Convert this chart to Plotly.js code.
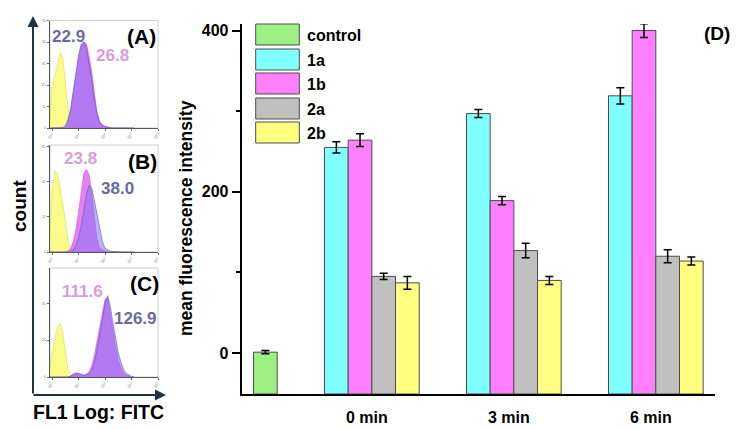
<!DOCTYPE html>
<html><head><meta charset="utf-8">
<script src="https://cdn.plot.ly/plotly-3.0.1.min.js"></script>
<style>html,body{margin:0;padding:0;background:#fff}#chart{width:751px;height:430px}</style>
</head><body><div id="chart"></div>
<script>
// ---------- Panel D: mean fluorescence intensity ----------
const groups = ['0 min', '3 min', '6 min'];
const seriesNames = ['control', '1a', '1b', '2a', '2b'];
const controlValue = [1];
const controlError = [2];
const mfi1a = [255, 297, 319];
const err1a = [7, 5, 10];
const mfi1b = [264, 189, 400];
const err1b = [8, 5, 8.5];
const mfi2a = [95, 127, 120];
const err2a = [4, 9, 8];
const mfi2b = [87, 90, 114];
const err2b = [8, 5, 5];

// ---------- Panels A-C: FL1 histograms (count per channel) ----------
const fl1Channels = [0.794, 1, 1.259, 1.585, 1.995, 2.512, 3.162, 3.981, 5.012, 6.31,
  7.943, 10, 12.59, 15.85, 19.95, 25.12, 31.62, 39.81, 50.12, 63.1,
  79.43, 100, 125.9, 158.5, 199.5, 251.2, 316.2, 398.1, 501.2, 631,
  794.3, 1000, 1259];
const countAYellow = [0,20,24,30,35,33,22,10,3,1, 0.5,0,0,0,0,0,0,0,0,0, 0,0,0,0,0,0,0,0,0,0, 0,0,0];
const countAPink   = [0,0,0,0,0,0,0.5,3,8,15, 24,32,38,40,39,33,26,16,7,3, 1.5,0.8,0.4,0.2,0,0,0,0,0,0, 0,0,0];
const countABlue   = [0,0,0,0,0,0.2,1,4,9,17, 26,34,39,40,37,30,22,13,6,2.5, 1,0.5,0.2,0,0,0,0,0,0,0, 0,0,0];
const countBYellow = [5,35,46,45,37,28,18,6,1.5,0.5, 0,0,0,0,0,0,0,0,0,0, 0,0,0,0,0,0,0,0,0,0, 0,0,0];
const countBPink   = [0,0,0,0,0,0,0,0.5,2,6, 13,23,35,45,47,44,33,18,7,2, 1,0.5,0,0,0,0,0,0,0,0, 0,0,0];
const countBBlue   = [0,0,0,0,0,0,0,0,0,1, 4,8,15,24,33,38,36,29,21,13, 6,2,1,0.5,0.3,0,0,0,0,0, 0,0,0];
const countCYellow = [3,13,20,27,29,24,14,4,1,0.5, 0,0,0,0,0,0,0,0,0,0, 0,0,0,0,0,0,0,0,0,0, 0,0,0];
const countCPink   = [0,0,0,0,0,0,0,0,0.5,1.5, 2,1.8,1.2,1,1.5,3,6,12,20,28, 36,42,43,35,25,16,9,5,2,1, 0.3,0,0];
const countCBlue   = [0,0,0,0,0,0,0,0,0.5,1.5, 2.2,2,1.3,1,1.2,2,4,8,15,24, 33,40,44,38,29,20,13,8,4,2, 1,0.3,0];
const panelNames = ['(A)', '(B)', '(C)'];
const mfiPinkLabels = ['26.8', '23.8', '111.6'];
const mfiBlueLabels = ['22.9', '38.0', '126.9'];

// ---------- helpers (pixel -> paper) ----------
const W = 751, H = 430;
const PX = p => p / W;
const PY = p => 1 - p / H;
const FONT = 'Liberation Sans, Arial, sans-serif';

const barColors = ['#9EF084', '#80FFFF', '#FF80FF', '#C0C0C0', '#FFFF80'];
const barLine = '#4d4d4d';
const yMin = -50.9, yMax = 408.1;

// bar positions (layout): control at 1, groups centred at 5.5, 11.5, 17.5
const groupCenters = groups.map((g, i) => 5.5 + 6 * i);
const traces = [];
function errSpec(arr) {
  return {type: 'data', array: arr, visible: true, color: '#000', thickness: 1.5, width: 4};
}
traces.push({
  type: 'bar', x: [1], y: controlValue.map(v => v - yMin), base: yMin, width: 1,
  marker: {color: barColors[0], line: {color: barLine, width: 1}},
  error_y: errSpec(controlError), hoverinfo: 'skip', showlegend: false
});
const grpVals = [mfi1a, mfi1b, mfi2a, mfi2b];
const grpErrs = [err1a, err1b, err2a, err2b];
grpVals.forEach((vals, s) => {
  traces.push({
    type: 'bar', x: groupCenters.map(c => c - 1.5 + s), y: vals.map(v => v - yMin),
    base: yMin, width: 1,
    marker: {color: barColors[s + 1], line: {color: barLine, width: 1}},
    error_y: errSpec(grpErrs[s]), hoverinfo: 'skip', showlegend: false
  });
});

// histogram traces
const histSets = [
  [countAYellow, countAPink, countABlue],
  [countBYellow, countBPink, countBBlue],
  [countCYellow, countCPink, countCBlue]
];
const histFill = ['rgba(250,250,100,0.75)', 'rgba(220,80,240,0.72)', 'rgba(135,115,240,0.55)'];
const histLine = ['rgba(220,220,80,0.9)', 'rgba(200,90,215,0.9)', 'rgba(95,85,175,0.85)'];
histSets.forEach((set, p) => {
  set.forEach((counts, k) => {
    traces.push({
      type: 'scatter', mode: 'lines', x: fl1Channels, y: counts,
      xaxis: 'x' + (p + 2), yaxis: 'y' + (p + 2),
      fill: 'tozeroy', fillcolor: histFill[k],
      line: {color: histLine[k], width: 0.7}, hoverinfo: 'skip', showlegend: false
    });
  });
});

// ---------- layout ----------
const layout = {
  width: W, height: H, margin: {l: 0, r: 0, t: 0, b: 0},
  paper_bgcolor: '#fff', plot_bgcolor: 'rgba(0,0,0,0)',
  showlegend: false, barmode: 'overlay',
  font: {family: FONT, color: '#000'},
  xaxis: {
    domain: [PX(241.7), PX(715)], range: [0, 20], showgrid: false, zeroline: false,
    showline: true, linecolor: '#000', linewidth: 2, ticks: '',
    tickvals: groupCenters, ticktext: groups, ticklabelshift: -5, ticklabelstandoff: 8,
    tickfont: {family: FONT, size: 16, weight: 700, color: '#000'}
  },
  yaxis: {
    domain: [PY(394), PY(24)], range: [yMin, yMax], showgrid: false, zeroline: false,
    showline: true, linecolor: '#000', linewidth: 2,
    tickvals: [0, 200, 400], ticks: 'outside', ticklen: 8, tickwidth: 2, tickcolor: '#000',
    minor: {tickvals: [100, 300], ticks: 'outside', ticklen: 4, tickwidth: 2, tickcolor: '#000'},
    tickfont: {family: FONT, size: 16, weight: 700, color: '#000'}
  },
  shapes: [], annotations: []
};

const histY = [[128, 20.5, 50, 10], [252, 145, 61, 20], [377, 268, 59, 20]];
histY.forEach((hy, p) => {
  const xa = 'xaxis' + (p + 2), ya = 'yaxis' + (p + 2);
  layout[xa] = {
    domain: [PX(50), PX(158)], type: 'log', range: [-0.08, 4.0], anchor: 'y' + (p + 2),
    showgrid: false, zeroline: false, showline: true, linecolor: '#555', linewidth: 1,
    ticks: 'outside', ticklen: 2, tickcolor: '#666',
    tickvals: [1, 10, 100, 1000, 10000],
    ticktext: ['10<sup>0</sup>', '10<sup>1</sup>', '10<sup>2</sup>', '10<sup>3</sup>', '10<sup>4</sup>'],
    tickangle: -45, tickfont: {size: 4, color: '#888'}
  };
  const tv = [];
  for (let v = 0; v <= hy[2]; v += hy[3]) tv.push(v);
  layout[ya] = {
    domain: [PY(hy[0]), PY(hy[1])], range: [0, hy[2]], anchor: 'x' + (p + 2),
    showgrid: false, zeroline: false, showline: true, linecolor: '#555', linewidth: 1,
    ticks: 'outside', ticklen: 2, tickcolor: '#666', tickvals: tv,
    tickfont: {size: 4, color: '#888'}
  };
  layout.shapes.push({
    type: 'rect', xref: 'x' + (p + 2) + ' domain', yref: 'y' + (p + 2) + ' domain',
    x0: 0, x1: 1, y0: 0, y1: 1, line: {color: '#cfcfcf', width: 1}, layer: 'below'
  });
});

// legend (manual, big boxes)
const legRows = [34.5, 59.5, 83.5, 108.5, 132.5];
seriesNames.forEach((name, i) => {
  layout.shapes.push({
    type: 'rect', xref: 'paper', yref: 'paper',
    x0: PX(255.7), x1: PX(299.3), y0: PY(legRows[i] + 10.5), y1: PY(legRows[i] - 10.5),
    fillcolor: barColors[i], line: {color: barLine, width: 1}
  });
  layout.annotations.push({
    xref: 'paper', yref: 'paper', x: PX(305), y: PY(legRows[i] + 1), xanchor: 'left', yanchor: 'middle',
    text: name, showarrow: false, font: {family: FONT, size: 16, weight: 700, color: '#000'}
  });
});

const ann = (x, y, text, size, color, extra) => Object.assign({
  xref: 'paper', yref: 'paper', x: PX(x), y: PY(y), text: text, showarrow: false,
  xanchor: 'center', yanchor: 'middle', font: {family: FONT, size: size, weight: 700, color: color}
}, extra || {});

layout.annotations.push(ann(717, 33, '(D)', 19, '#000'));
layout.annotations.push(ann(186, 218, 'mean fluorescence intensity', 17.5, '#000', {textangle: -90}));
layout.annotations.push(ann(19, 206, 'count', 19, '#000', {textangle: -90}));
layout.annotations.push(ann(98, 412, 'FL1 Log: FITC', 19.5, '#000'));

const panelLabelPos = [[141.7, 36.7], [142.5, 161], [144, 283]];
const pinkPos = [[112.7, 55.7], [80, 159], [82, 291.3]];
const bluePos = [[68.3, 36.7], [117.5, 188.3], [135, 318]];
const pinkTxt = '#D89BDC', blueTxt = '#6A69A0';
panelNames.forEach((n, p) => {
  layout.annotations.push(ann(panelLabelPos[p][0], panelLabelPos[p][1], n, 21, '#000'));
  layout.annotations.push(ann(pinkPos[p][0], pinkPos[p][1], mfiPinkLabels[p], 17, pinkTxt));
  layout.annotations.push(ann(bluePos[p][0], bluePos[p][1], mfiBlueLabels[p], 17, blueTxt));
});

// outer arrow axes of the histogram stack
layout.annotations.push({
  xref: 'paper', yref: 'paper', x: PX(33), y: PY(16), ax: 0, ay: 379, axref: 'pixel', ayref: 'pixel',
  text: '', showarrow: true, arrowhead: 2, arrowsize: 1.1, arrowwidth: 2, arrowcolor: '#1d3447'
});
layout.annotations.push({
  xref: 'paper', yref: 'paper', x: PX(166), y: PY(395), ax: -134, ay: 0, axref: 'pixel', ayref: 'pixel',
  text: '', showarrow: true, arrowhead: 2, arrowsize: 1.1, arrowwidth: 2, arrowcolor: '#1d3447'
});

Plotly.newPlot('chart', traces, layout, {staticPlot: true, displayModeBar: false});
</script>
</body></html>
